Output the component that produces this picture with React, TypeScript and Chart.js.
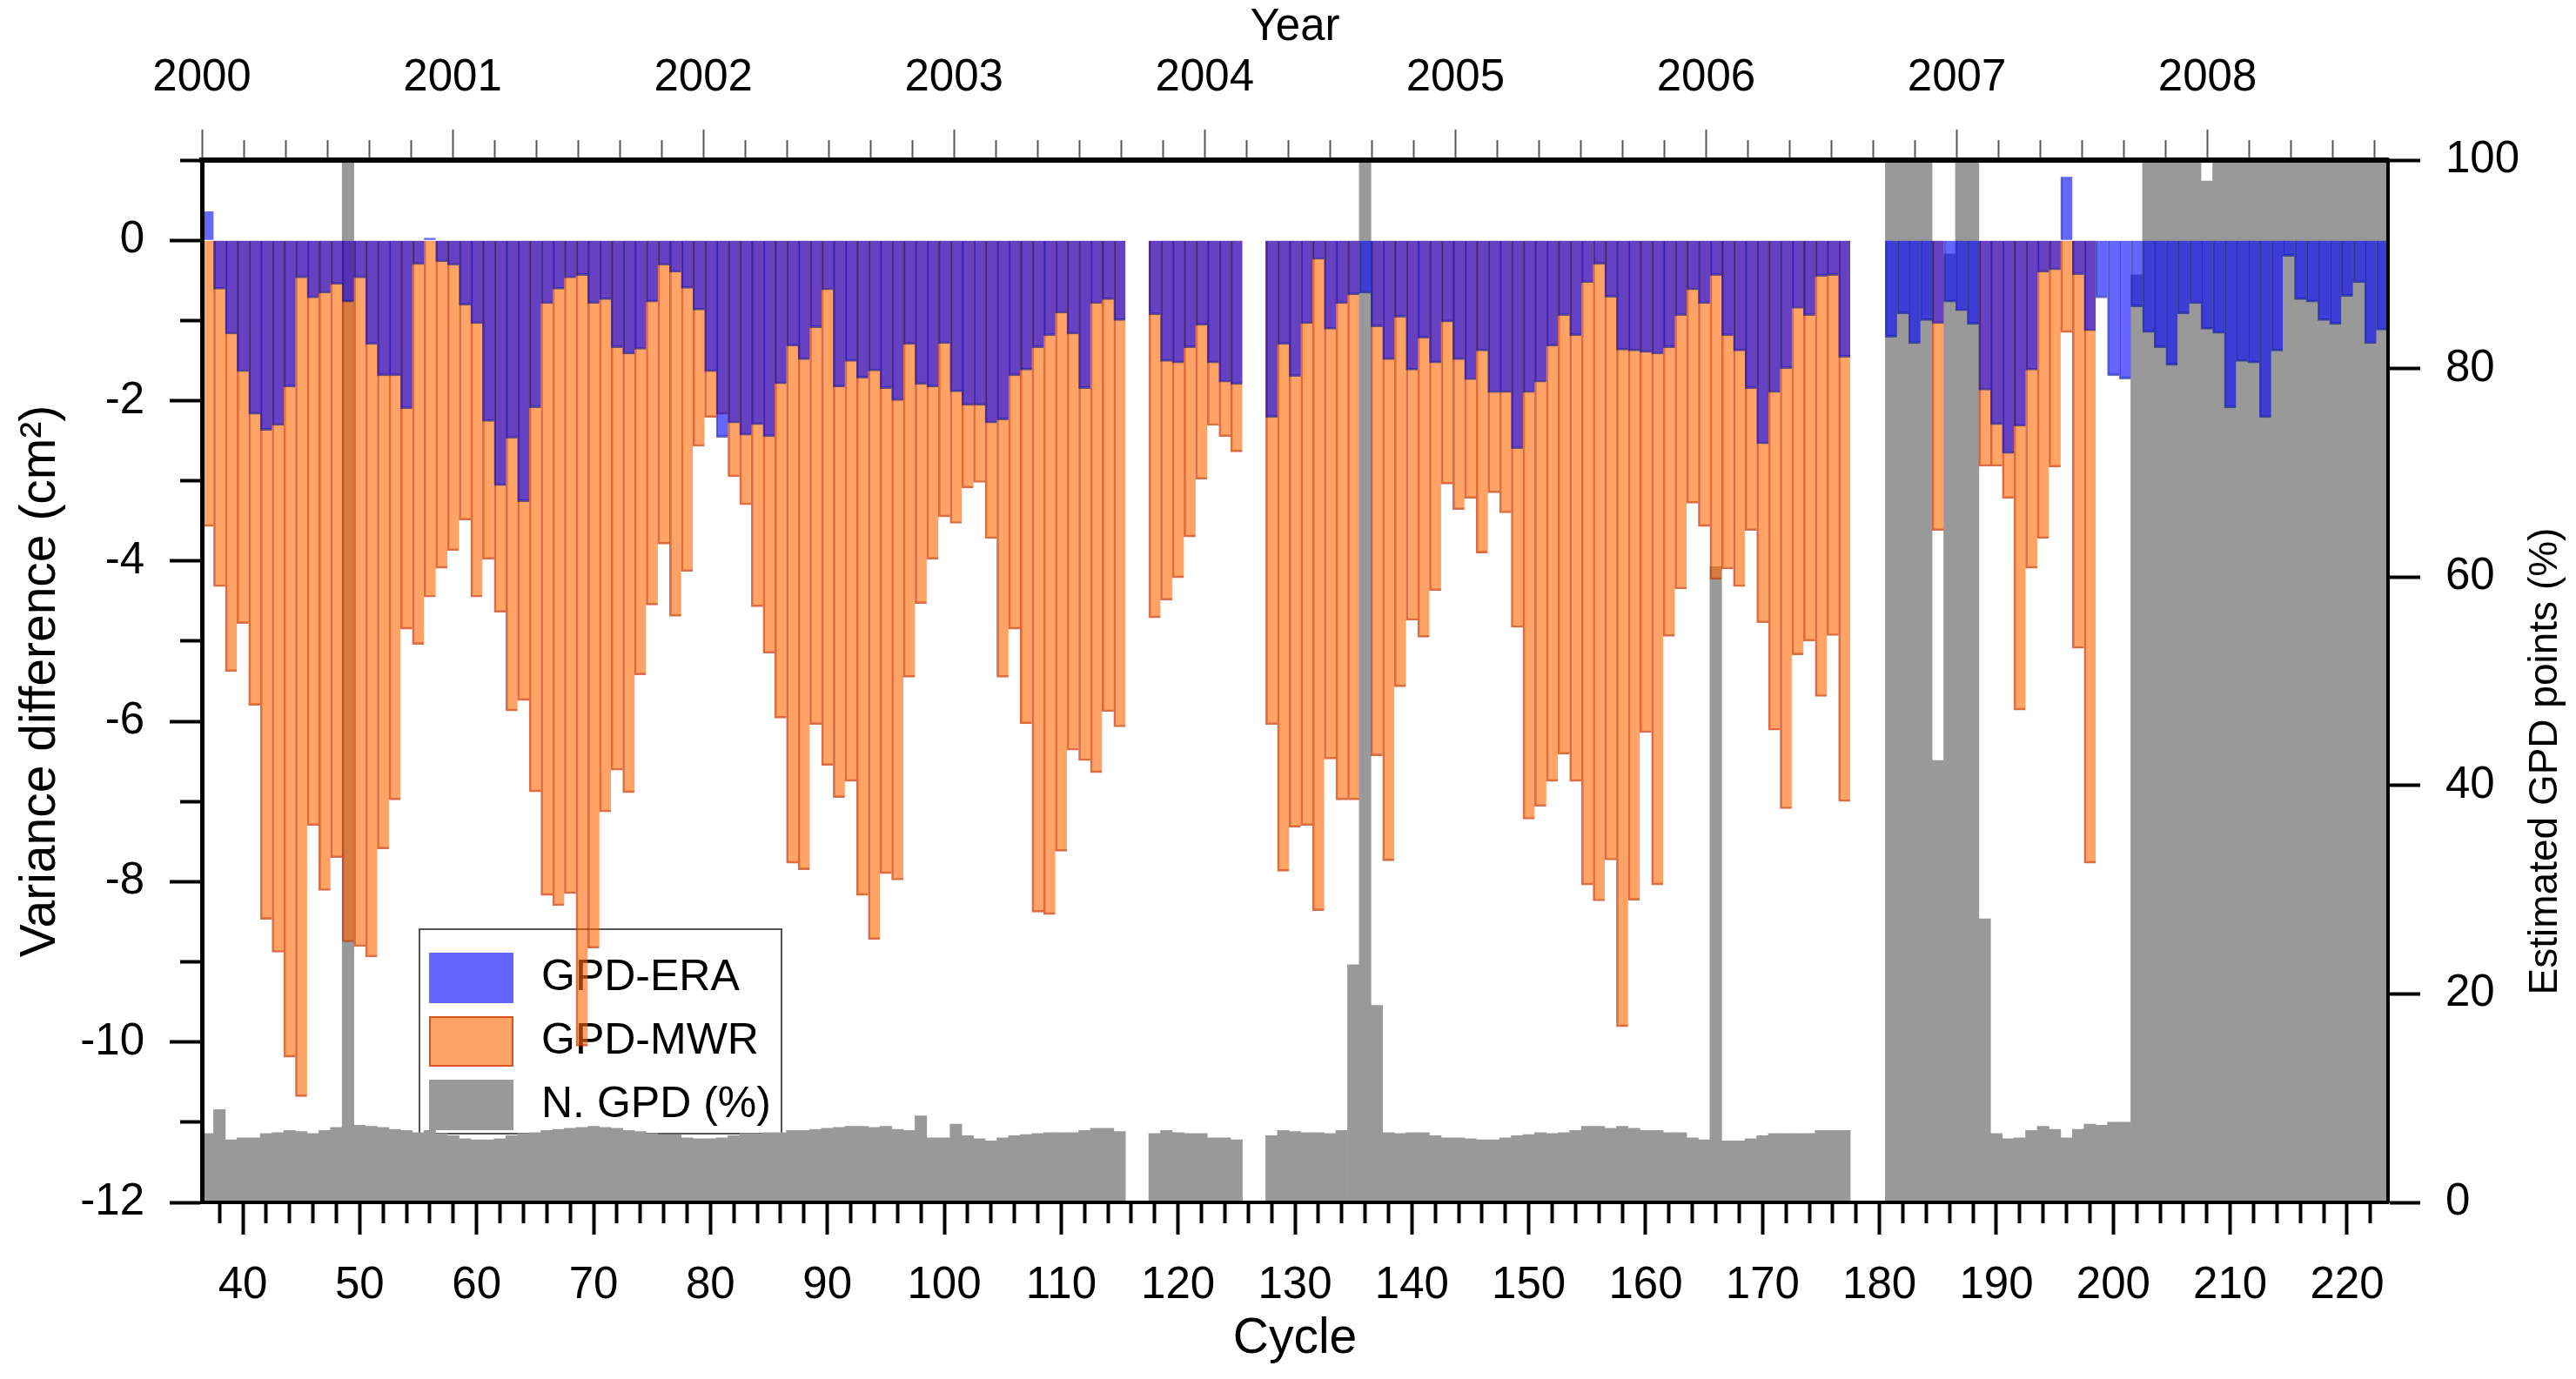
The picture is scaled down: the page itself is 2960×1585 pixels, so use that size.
import { useEffect, useRef } from 'react';
import { Chart, registerables } from 'chart.js';

Chart.register(...registerables);

const FONT = "'Liberation Sans', Arial, Helvetica, sans-serif";

// one value per cycle, starting at cycle 37 and ending at 223; null = no data
const firstCycle = 37;

const gpdEra = [
  0.36, -0.61, -1.17, -1.64, -2.17, -2.37, -2.31, -1.83, -0.47, -0.72,
  -0.66, -0.55, -0.77, -0.47, -1.30, -1.69, -1.69, -2.10, -0.30, 0.03,
  -0.27, -0.31, -0.81, -1.04, -2.26, -3.06, -2.47, -3.26, -2.09, -0.79,
  -0.61, -0.47, -0.44, -0.79, -0.74, -1.34, -1.42, -1.36, -0.77, -0.31,
  -0.40, -0.60, -0.87, -1.64, -2.46, -2.28, -2.43, -2.30, -2.45, -1.79,
  -1.32, -1.49, -1.09, -0.62, -1.83, -1.51, -1.72, -1.63, -1.85, -2.00,
  -1.30, -1.80, -1.83, -1.29, -1.89, -2.06, -2.06, -2.28, -2.24, -1.69,
  -1.62, -1.34, -1.19, -0.91, -1.17, -1.85, -0.79, -0.74, -1.00, null,
  null, -0.93, -1.51, -1.53, -1.34, -1.06, -1.53, -1.77, -1.80, null,
  null, -2.21, -1.30, -1.70, -1.04, -0.24, -1.11, -0.79, -0.68, -0.66,
  -1.08, -1.49, -0.96, -1.62, -1.22, -1.53, -1.02, -1.49, -1.74, -1.38,
  -1.90, -1.90, -2.60, -1.90, -1.77, -1.32, -0.94, -1.19, -0.53, -0.30,
  -0.71, -1.37, -1.38, -1.40, -1.42, -1.34, -0.94, -0.62, -0.79, -0.44,
  -1.19, -1.38, -1.85, -2.54, -1.90, -1.60, -0.85, -0.94, -0.45, -0.44,
  -1.46, null, null, null, -1.21, -0.92, -1.29, -1.00, -1.04, -0.77,
  -0.88, -1.05, -1.87, -2.30, -2.66, -2.32, -1.62, -0.40, -0.37, 0.79,
  -0.43, -1.13, -0.72, -1.69, -1.73, -0.83, -1.15, -1.34, -1.56, -0.92,
  -0.79, -1.11, -1.16, -2.09, -1.51, -1.53, -2.21, -1.38, -0.20, -0.74,
  -0.77, -1.00, -1.05, -0.70, -0.53, -1.29, -1.12,
];

const gpdMwr = [
  -3.57, -4.32, -5.38, -4.78, -5.80, -8.47, -8.88, -10.19, -10.68, -7.30,
  -8.11, -7.70, -8.75, -8.81, -8.94, -7.59, -6.98, -4.85, -5.04, -4.45,
  -4.09, -3.87, -3.49, -4.45, -3.98, -4.64, -5.87, -5.74, -6.88, -8.17,
  -8.30, -8.15, -10.05, -8.83, -7.13, -6.61, -6.89, -5.42, -4.55, -3.79,
  -4.69, -4.13, -2.57, -2.21, -2.17, -2.95, -3.30, -4.57, -5.15, -5.96,
  -7.77, -7.85, -6.04, -6.55, -6.95, -6.75, -8.17, -8.72, -7.90, -7.98,
  -5.45, -4.53, -3.98, -3.45, -3.53, -3.09, -3.02, -3.72, -5.45, -4.85,
  -6.03, -8.38, -8.41, -7.62, -6.36, -6.49, -6.64, -5.88, -6.07, null,
  null, -4.71, -4.49, -4.21, -3.70, -2.98, -2.31, -2.45, -2.64, null,
  null, -6.04, -7.87, -7.32, -7.30, -8.36, -6.47, -6.98, -6.98, null,
  -6.43, -7.74, -5.57, -4.74, -4.95, -4.37, -3.04, -3.36, -3.22, -3.90,
  -3.15, -3.40, -4.83, -7.22, -7.06, -6.75, -6.41, -6.75, -8.04, -8.24,
  -7.73, -9.81, -8.23, -6.14, -8.04, -4.94, -4.35, -3.28, -3.57, -4.23,
  -4.10, -4.32, -3.62, -4.77, -6.11, -7.09, -5.17, -5.00, -5.69, -4.93,
  -7.00, null, null, null, null, null, null, null, -3.62, null,
  null, null, -2.82, -2.82, -3.22, -5.86, -4.09, -3.72, -2.83, -1.15,
  -5.09, -7.77, null, null, null, null, null, null, null, null,
  null, null, null, null, null, null, null, null, null, null,
  null, null, null, null, null, null, null,
];

const nGpd = [
  6.6, 8.9, 6.0, 6.2, 6.2, 6.6, 6.7, 6.9, 6.8, 6.6,
  6.9, 7.2, 100, 7.4, 7.3, 7.2, 7.0, 6.9, 6.7, 6.9,
  6.6, 6.4, 6.1, 6.0, 6.0, 6.1, 6.4, 6.6, 6.7, 6.9,
  7.0, 7.1, 7.2, 7.3, 7.2, 7.1, 6.9, 6.8, 6.6, 6.5,
  6.5, 6.2, 6.1, 6.1, 6.2, 6.4, 6.6, 6.6, 6.7, 6.7,
  6.9, 6.9, 7.0, 7.1, 7.2, 7.3, 7.3, 7.2, 7.3, 7.0,
  6.9, 8.3, 6.2, 6.2, 7.5, 6.4, 6.1, 5.9, 6.2, 6.4,
  6.5, 6.6, 6.7, 6.7, 6.7, 6.9, 7.1, 7.1, 6.8, null,
  null, 6.6, 6.9, 6.7, 6.6, 6.6, 6.2, 6.2, 6.0, null,
  null, 6.4, 6.9, 6.8, 6.7, 6.7, 6.6, 6.9, 22.8, 100,
  18.9, 6.7, 6.6, 6.7, 6.7, 6.4, 6.2, 6.2, 6.1, 6.0,
  6.0, 6.2, 6.4, 6.5, 6.7, 6.6, 6.7, 6.9, 7.3, 7.3,
  7.1, 7.3, 7.1, 6.9, 6.9, 6.7, 6.7, 6.2, 6.0, 61,
  5.9, 5.9, 6.1, 6.4, 6.6, 6.6, 6.6, 6.6, 6.9, 6.9,
  6.9, null, null, null, 100, 100, 100, 100, 42.4, 91,
  100, 100, 27.2, 6.6, 6.1, 6.2, 6.9, 7.3, 7.0, 6.2,
  7.0, 7.5, 7.4, 7.7, 7.7, 89, 100, 100, 100, 100,
  100, 98, 100, 100, 100, 100, 100, 100, 100, 100,
  100, 100, 100, 100, 100, 100, 100,
];

const cycleLabels = [40, 50, 60, 70, 80, 90, 100, 110, 120, 130, 140, 150, 160, 170, 180, 190, 200, 210, 220];
const yearLabels = [2000, 2001, 2002, 2003, 2004, 2005, 2006, 2007, 2008];
const leftLabels = [-12, -10, -8, -6, -4, -2, 0];
const rightLabels = [0, 20, 40, 60, 80, 100];

const cycleMin = 36.5;
const cycleMax = 223.5;
const yearMin = 2000;
const yearMax = 2008.72;

// tick positions (minor + major)
const cycleTicks: number[] = [];
for (let c = 38; c <= 222; c += 2) cycleTicks.push(c);
const yearTicks: number[] = [];
for (let k = 0; yearMin + k / 6 <= yearMax; k++) yearTicks.push(yearMin + k / 6);
const leftTicks: number[] = [];
for (let v = -12; v <= 1; v++) leftTicks.push(v);

const isYear = (v: number) => Math.abs(v - Math.round(v)) < 1e-6;
const tickValue = (c: any) => (c && c.tick ? c.tick.value : NaN);

const toPoints = (values: (number | null)[]) =>
  values.map((y, i) => ({ x: firstCycle + i, y })).filter((p) => p.y !== null);

const eraColor = 'rgba(0, 0, 255, 0.6)';
const eraEdge = 'rgba(0, 20, 150, 0.6)';
const mwrColor = 'rgba(255, 102, 0, 0.6)';
const mwrEdge = 'rgba(200, 50, 0, 0.7)';
const gpdColor = '#999999';

const tickFont = { family: FONT, size: 51 };

// legend box inside the plot, drawn under the bars
const insideLegend = {
  id: 'insideLegend',
  beforeDatasetsDraw(chart: any) {
    const { ctx, chartArea } = chart;
    const left = chartArea.left + 250;
    const top = chartArea.top + 884;
    ctx.save();
    ctx.fillStyle = '#fff';
    ctx.fillRect(left, top, 416, 235);
    ctx.lineWidth = 2;
    ctx.strokeStyle = '#555';
    ctx.strokeRect(left, top, 416, 235);
    ctx.font = `50px ${FONT}`;
    ctx.textBaseline = 'middle';
    ctx.textAlign = 'left';
    chart.data.datasets.forEach((ds: any, i: number) => {
      const sy = top + 27 + i * 73;
      ctx.fillStyle = ds.backgroundColor;
      ctx.fillRect(left + 11, sy, 97, 58);
      if (i === 1) {
        ctx.strokeStyle = ds.borderColor;
        ctx.lineWidth = 2;
        ctx.strokeRect(left + 12, sy + 1, 95, 56);
      }
      ctx.fillStyle = '#000';
      ctx.fillText(ds.label, left + 140, sy + 29);
    });
    ctx.restore();
  },
};

// right-hand title, reading bottom to top like the left one
const rightTitle = {
  id: 'rightTitle',
  afterDraw(chart: any) {
    const { ctx, chartArea } = chart;
    ctx.save();
    ctx.translate(chart.width - 35, chartArea.top + 691);
    ctx.rotate(-Math.PI / 2);
    ctx.font = `46px ${FONT}`;
    ctx.fillStyle = '#000';
    ctx.textAlign = 'center';
    ctx.textBaseline = 'middle';
    ctx.fillText('Estimated GPD points (%)', 0, 0);
    ctx.restore();
  },
};

export default function App() {
  const canvasRef = useRef<HTMLCanvasElement>(null);

  useEffect(() => {
    if (!canvasRef.current) return;
    Chart.defaults.font.family = FONT;
    Chart.defaults.color = '#000';

    const chart = new Chart(canvasRef.current, {
      type: 'bar',
      data: {
        datasets: [
          {
            label: 'GPD-ERA',
            data: toPoints(gpdEra),
            xAxisID: 'x',
            yAxisID: 'y',
            backgroundColor: eraColor,
            borderColor: eraEdge,
            borderWidth: { left: 1.5, right: 0, top: 0, bottom: 2 },
            barPercentage: 1,
            categoryPercentage: 1,
            grouped: false,
          },
          {
            label: 'GPD-MWR',
            data: toPoints(gpdMwr),
            xAxisID: 'x',
            yAxisID: 'y',
            backgroundColor: mwrColor,
            borderColor: mwrEdge,
            borderWidth: { left: 2, right: 0, top: 0, bottom: 2 },
            barPercentage: 1,
            categoryPercentage: 1,
            grouped: false,
          },
          {
            label: 'N. GPD (%)',
            data: toPoints(nGpd),
            xAxisID: 'x',
            yAxisID: 'y2',
            backgroundColor: gpdColor,
            borderWidth: 0,
            barPercentage: 1,
            categoryPercentage: 1,
            grouped: false,
          },
        ],
      } as any,
      options: {
        animation: false,
        responsive: true,
        maintainAspectRatio: false,
        devicePixelRatio: 1,
        events: [],
        layout: { padding: 0 },
        plugins: { legend: { display: false }, tooltip: { enabled: false } },
        scales: {
          x: {
            type: 'linear',
            position: 'bottom',
            min: cycleMin,
            max: cycleMax,
            offset: false,
            afterBuildTicks: (s: any) => { s.ticks = cycleTicks.map((value) => ({ value })); },
            afterFit: (s: any) => { s.height = 203; },
            ticks: {
              autoSkip: false, minRotation: 0, maxRotation: 0, padding: 28, font: tickFont, color: '#000',
              callback: (v: any) => (cycleLabels.includes(v) ? String(v) : ''),
            },
            grid: {
              offset: false, drawOnChartArea: false, tickLength: 37, tickWidth: 4, tickColor: '#000',
              tickBorderDash: (c: any) => (cycleLabels.includes(tickValue(c)) ? [] : [22, 400]),
            },
            border: { display: true, color: '#000', width: 4, z: 1 },
            title: { display: true, text: 'Cycle', color: '#000', font: { family: FONT, size: 57 }, padding: { top: 0, bottom: 12 } },
          },
          x2: {
            type: 'linear',
            position: 'top',
            min: yearMin,
            max: yearMax,
            offset: false,
            afterBuildTicks: (s: any) => { s.ticks = yearTicks.map((value) => ({ value })); },
            afterFit: (s: any) => { s.height = 184; },
            ticks: {
              autoSkip: false, minRotation: 0, maxRotation: 0, padding: 28, font: tickFont, color: '#000',
              callback: (v: any) => (isYear(v) && yearLabels.includes(Math.round(v)) ? String(Math.round(v)) : ''),
            },
            grid: {
              offset: false, drawOnChartArea: false, tickLength: 35, tickWidth: 2, tickColor: '#555',
              tickBorderDash: (c: any) => (isYear(tickValue(c)) ? [] : [40, 400]),
              tickBorderDashOffset: (c: any) => (isYear(tickValue(c)) ? 0 : -12),
            },
            border: { display: true, color: '#000', width: 6, z: 1 },
            title: { display: true, text: 'Year', color: '#000', font: { family: FONT, size: 51 }, padding: { top: 1, bottom: 0 } },
          },
          y: {
            type: 'linear',
            position: 'left',
            min: -12,
            max: 1,
            afterBuildTicks: (s: any) => { s.ticks = leftTicks.map((value) => ({ value })); },
            afterFit: (s: any) => { s.width = 232; },
            ticks: {
              autoSkip: false, padding: 29, font: tickFont, color: '#000',
              callback: (v: any) => (leftLabels.includes(v) ? String(v) : ''),
            },
            grid: {
              drawOnChartArea: false, tickLength: 37, tickWidth: 4, tickColor: '#000',
              tickBorderDash: (c: any) => (leftLabels.includes(tickValue(c)) ? [] : [40, 400]),
              tickBorderDashOffset: (c: any) => (leftLabels.includes(tickValue(c)) ? 0 : -12),
            },
            border: { display: true, color: '#000', width: 5, z: 1 },
            title: { display: true, text: 'Variance difference (cm²)', color: '#000', font: { family: FONT, size: 57 }, padding: { top: 13, bottom: 0 } },
          },
          y2: {
            type: 'linear',
            position: 'right',
            min: 0,
            max: 100,
            afterBuildTicks: (s: any) => { s.ticks = rightLabels.map((value) => ({ value })); },
            afterFit: (s: any) => { s.width = 216; },
            ticks: { autoSkip: false, padding: 29, font: tickFont, color: '#000', callback: (v: any) => String(v) },
            grid: { drawOnChartArea: false, tickLength: 37, tickWidth: 4, tickColor: '#000' },
            border: { display: true, color: '#000', width: 4, z: 1 },
          },
        },
      } as any,
      plugins: [insideLegend, rightTitle],
    });

    return () => { chart.destroy(); };
  }, []);

  return (
    <div style={{ position: 'fixed', left: 0, top: 0, width: '2960px', height: '1585px', background: '#fff' }}>
      <canvas ref={canvasRef} />
    </div>
  );
}
